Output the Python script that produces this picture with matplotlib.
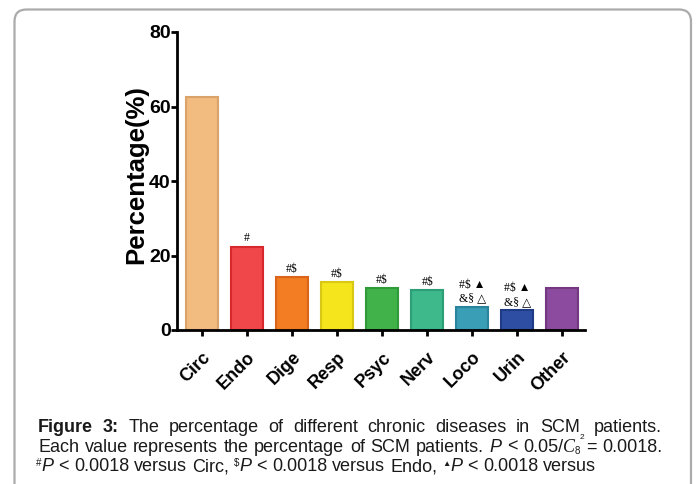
import matplotlib
matplotlib.use("Agg")
import matplotlib.pyplot as plt
import matplotlib.transforms as mtransforms
from matplotlib.patches import FancyBboxPatch

# ---- data -------------------------------------------------------------
categories = ["Circ", "Endo", "Dige", "Resp", "Psyc", "Nerv", "Loco", "Urin", "Other"]
percentages = [62.6, 22.4, 14.2, 12.8, 11.2, 10.8, 6.3, 5.3, 11.2]
significance = ["", "#", "#$", "#$", "#$", "#$", "#$ \u25B2\n&\u00A7 \u25B3", "#$ \u25B2\n&\u00A7 \u25B3", ""]
y_ticks = [0, 20, 40, 60, 80]

fill_colors = ["#F2BB80", "#EF474A", "#F37D22", "#F5E51C", "#41B149",
               "#3DB98C", "#3A9EB6", "#2D4EA2", "#8C4B9E"]
edge_colors = ["#D9A36A", "#D7282E", "#D9651A", "#D8C815", "#2F9A38",
               "#2D9F77", "#2A859C", "#1F3B87", "#73387F"]

W, H = 696, 484
fig = plt.figure(figsize=(W / 100, H / 100), dpi=100)

# background layer in pixel units (y grows downward) for frame and caption
bg = fig.add_axes([0, 0, 1, 1])
bg.set_xlim(0, W)
bg.set_ylim(H, 0)
bg.axis("off")
bg.add_patch(FancyBboxPatch((14.5, 9.5), 676.5, 490,
                            boxstyle="round,pad=0,rounding_size=12",
                            fc="none", ec="#ABABAB", lw=1.6))

# ---- bar chart ----------------------------------------------------------
SANS = ["Liberation Sans", "DejaVu Sans"]
SERIF = ["Liberation Serif", "DejaVu Serif"]
ax = fig.add_axes([177 / W, 1 - 330 / H, (585 - 177) / W, (330 - 32) / H])
x = list(range(len(categories)))
ax.bar(x, percentages, width=0.71, color=fill_colors, edgecolor=edge_colors,
       linewidth=1.5, zorder=2)
ax.set_xlim(-0.55, 8.5)
ax.set_ylim(0, 80)
ax.set_yticks(y_ticks)
ax.set_yticklabels([str(t) for t in y_ticks], fontsize=14, fontweight="bold", family=SANS)
ax.set_xticks(x)
ax.set_xticklabels(categories, rotation=45, ha="right", rotation_mode="anchor",
                   fontsize=13, fontweight="bold", family=SANS)
shift = mtransforms.ScaledTranslation(-0.05, 0, fig.dpi_scale_trans)
for lbl in ax.get_xticklabels():
    lbl.set_transform(lbl.get_transform() + shift)
for s in ("top", "right"):
    ax.spines[s].set_visible(False)
for s in ("left", "bottom"):
    ax.spines[s].set_linewidth(2)
ax.tick_params(axis="both", width=2, length=4)
ax.tick_params(axis="y", pad=0.5)
ax.tick_params(axis="x", pad=9.5)
ax.set_ylabel("Percentage(%)", fontsize=18.5, fontweight="bold", family=SANS)
ax.yaxis.set_label_coords(-0.07, 0.522)

for xi, v, s in zip(x, percentages, significance):
    if s:
        ax.annotate(s, (xi, v), xytext=(0, 1.5), textcoords="offset points",
                    ha="center", va="bottom", fontsize=8.5, linespacing=1.2,
                    family=SERIF)

# ---- caption -------------------------------------------------------------
renderer = fig.canvas.get_renderer()
BASE = dict(family=SANS, fontsize=13, color="#1A1A1A")


def run_width(txt, props):
    t = bg.text(0, 0, txt, **props)
    w = t.get_window_extent(renderer).width
    t.remove()
    return w


def R(txt, dy=0, **kw):
    props = dict(BASE)
    props.update(kw)
    return (txt, dy, props)


def draw_line(words, x0, y, width=None):
    widths = [sum(run_width(t, p) for t, _, p in w) for w in words]
    if width is None:
        gap = run_width("a a", BASE) - 2 * run_width("a", BASE)
    else:
        gap = (width - sum(widths)) / (len(words) - 1)
    xc = x0
    for w in words:
        for t, dy, p in w:
            bg.text(xc, y - dy, t, ha="left", va="baseline", **p)
            xc += run_width(t, p)
        xc += gap


def plain(text):
    return [[R(w)] for w in text.split()]


line1 = ([[R("Figure", fontweight="bold")], [R("3:", fontweight="bold")]]
         + plain("The percentage of different chronic diseases in")
         + [[R("SCM"), R("2", dy=-7, fontsize=6)]] + plain("patients."))
line2 = (plain("Each value represents the percentage of SCM patients.")
         + [[R("P", style="italic")], [R("<")],
            [R("0.05/"), R("C", style="italic", family=SERIF),
             R("8", dy=-2, fontsize=7)],
            [R("=")], [R("0.0018.")]])
line3 = [[R("#", dy=5, fontsize=7), R("P", style="italic")], [R("<")], [R("0.0018")],
         [R("versus")], [R("Circ,")],
         [R("$", dy=5, fontsize=7), R("P", style="italic")], [R("<")], [R("0.0018")],
         [R("versus")], [R("Endo,")],
         [R("\u25B2", dy=5, fontsize=6), R("P", style="italic")], [R("<")], [R("0.0018")],
         [R("versus")]]

draw_line(line1, 38, 432, width=662 - 38)
draw_line(line2, 38, 451.5, width=662 - 38)
draw_line(line3, 36, 471)

fig.savefig("out.png", dpi=100)
